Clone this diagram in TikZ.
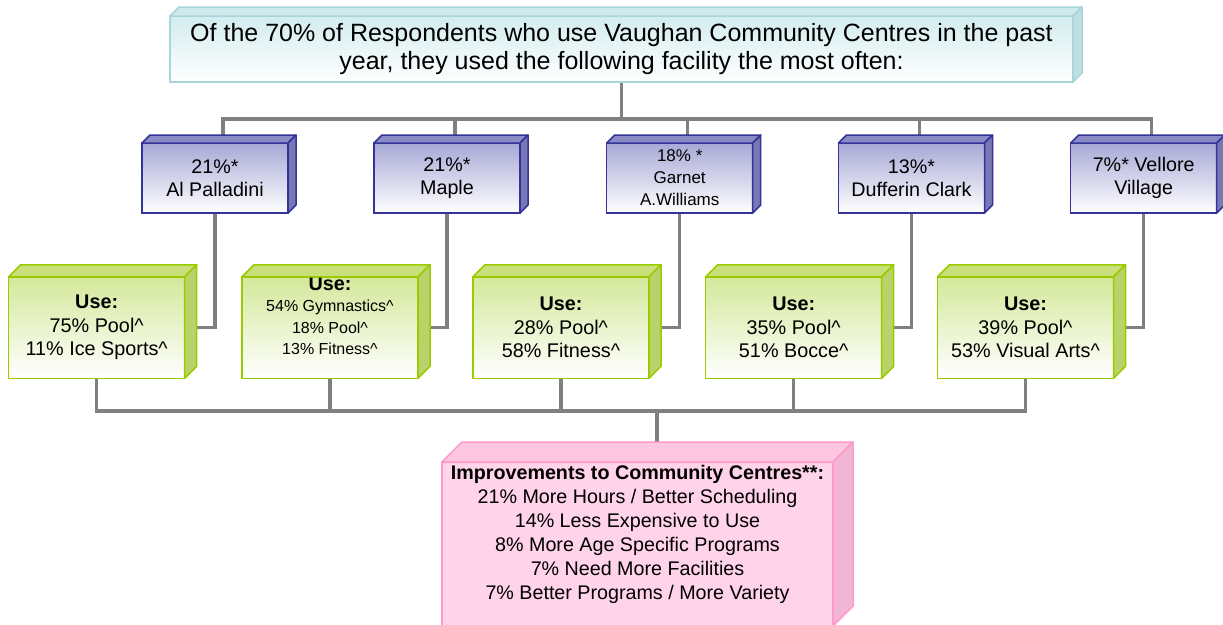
\documentclass[tikz,border=0pt]{standalone}
\usepackage{fontspec}
\setmainfont{Liberation Sans}
\usetikzlibrary{calc}
\pgfdeclarelayer{bg}
\pgfsetlayers{bg,main}

\definecolor{linegray}{HTML}{808080}
\definecolor{tealline}{HTML}{A9D6DA}
\definecolor{tealtop}{HTML}{D3ECEE}
\definecolor{tealface}{HTML}{CFE8EA}
\definecolor{tealside}{HTML}{BFDFE2}
\definecolor{blueline}{HTML}{333399}
\definecolor{bluetop}{HTML}{A7A8D6}
\definecolor{blueface}{HTML}{8A8AC6}
\definecolor{blueside}{HTML}{7878B6}
\definecolor{greenline}{HTML}{99CC00}
\definecolor{greentop}{HTML}{D4E89A}
\definecolor{greenface}{HTML}{C9E07A}
\definecolor{greenside}{HTML}{B9D36A}
\definecolor{pinkline}{HTML}{FF99CC}
\definecolor{pinkfill}{HTML}{FFD3E9}
\definecolor{pinkface}{HTML}{FFC6E1}
\definecolor{pinkside}{HTML}{F2B6D4}

% top and side faces of a box whose front face is the node #1
\newcommand\extrudebox[5]{%
  \filldraw[draw=#3, fill=#4, line width=1.5pt, line join=round]
    (#1.north west) -- ++(#2,-#2) -- ([shift={(#2,-#2)}]#1.north east) -- (#1.north east) -- cycle;
  \filldraw[draw=#3, fill=#5, line width=1.5pt, line join=round]
    (#1.north east) -- ++(#2,-#2) -- ([shift={(#2,-#2)}]#1.south east) -- (#1.south east) -- cycle;
}

\tikzset{
  frontbox/.style={draw, line width=1.5pt, outer sep=0pt, inner sep=0pt, align=center},
  tealbox/.style={frontbox, draw=tealline, top color=tealtop, bottom color=white,
    minimum width=903pt, minimum height=66pt, font=\fontsize{25}{28}\selectfont},
  bluebox/.style={frontbox, draw=blueline, top color=bluetop, bottom color=white,
    minimum width=146pt, minimum height=70pt, font=\fontsize{19.7}{23}\selectfont},
  greenbox/.style={frontbox, draw=greenline, top color=greentop, bottom color=white,
    minimum width=176pt, minimum height=101.5pt, font=\fontsize{19.8}{23.5}\selectfont},
  pinkbox/.style={frontbox, draw=pinkline, fill=pinkfill, font=\fontsize{19.7}{24}\selectfont},
  conn/.style={draw=linegray, line width=3.5pt},
}

\begin{document}
\begin{tikzpicture}[x=1pt, y=-1pt]
\useasboundingbox (0,0) rectangle (1223,624);

% header
\node[tealbox] (t) at (621.5,49)
  {Of the 70\% of Respondents who use Vaughan Community Centres in the past\\
   year, they used the following facility the most often:};
\extrudebox{t}{9}{tealline}{tealface}{tealside}

% centres
\node[bluebox] (b1) at (215,178) {21\%*\\Al Palladini};
\node[bluebox] (b2) at (447,178) {21\%*\\Maple};
\node[bluebox, font=\fontsize{17}{22}\selectfont] (b3) at (679.7,178) {18\% *\\Garnet\\A.Williams};
\node[bluebox] (b4) at (911.5,178) {13\%*\\Dufferin Clark};
\node[bluebox] (b5) at (1143.7,178) {7\%* Vellore\\Village};
\foreach \n in {b1,b2,b3,b4,b5}{\extrudebox{\n}{8}{blueline}{blueface}{blueside}}

% facilities used
\node[greenbox] (g1) at (96.7,327.5) {\textbf{Use:}\\75\% Pool\textasciicircum\\11\% Ice Sports\textasciicircum};
\node[greenbox] (g2) at (330,327.5)
  {\parbox[c][101.5pt][t]{176pt}{\centering\textbf{Use:}\\
   \fontsize{16}{21.5}\selectfont 54\% Gymnastics\textasciicircum\\18\% Pool\textasciicircum\\13\% Fitness\textasciicircum}};
\node[greenbox] (g3) at (561,327.5) {\textbf{Use:}\\28\% Pool\textasciicircum\\58\% Fitness\textasciicircum};
\node[greenbox] (g4) at (793.7,327.5) {\textbf{Use:}\\35\% Pool\textasciicircum\\51\% Bocce\textasciicircum};
\node[greenbox] (g5) at (1025.5,327.5) {\textbf{Use:}\\39\% Pool\textasciicircum\\53\% Visual Arts\textasciicircum};
\foreach \n in {g1,g2,g3,g4,g5}{\extrudebox{\n}{12}{greenline}{greenface}{greenside}}

% improvements
\node[pinkbox] (p) at (637.5,544)
  {\parbox[c][164pt][t]{391pt}{\centering\vspace*{3pt}%
   \textbf{Improvements to Community Centres**:}\\
   21\% More Hours / Better Scheduling\\
   14\% Less Expensive to Use\\
   8\% More Age Specific Programs\\
   7\% Need More Facilities\\
   7\% Better Programs / More Variety}};
\extrudebox{p}{20}{pinkline}{pinkface}{pinkside}

% connectors
\begin{pgfonlayer}{bg}
  \coordinate (jt) at (621.5,119);
  \coordinate (jb) at (657,411);
  \draw[conn] (t.south) -- (jt);
  \foreach \n in {b1,b2,b3,b4,b5}{\draw[conn] ([xshift=8pt]\n.north) |- (jt);}
  \draw[conn] (b1.south) |- (g1.east);
  \draw[conn] (b2.south) |- (g2.east);
  \draw[conn] (b3.south) |- (g3.east);
  \draw[conn] (b4.south) |- (g4.east);
  \draw[conn] (b5.south) |- (g5.east);
  \foreach \n in {g1,g2,g3,g4,g5}{\draw[conn] (\n.south) |- (jb);}
  \draw[conn] (jb) -- (jb |- p.north);
\end{pgfonlayer}
\end{tikzpicture}
\end{document}
